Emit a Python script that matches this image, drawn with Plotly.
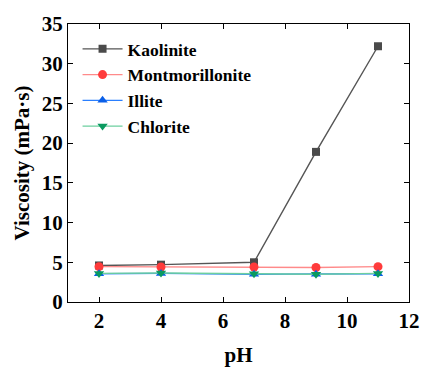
import plotly.graph_objects as go

ph = [2, 4, 7, 9, 11]
kaolinite = [4.6, 4.7, 5.0, 18.9, 32.2]
montmorillonite = [4.45, 4.4, 4.4, 4.35, 4.45]
illite = [3.55, 3.6, 3.5, 3.5, 3.55]
chlorite = [3.6, 3.65, 3.55, 3.5, 3.6]

x_ticks = [2, 4, 6, 8, 10, 12]
y_ticks = [0, 5, 10, 15, 20, 25, 30, 35]

series = [
    ("Kaolinite", kaolinite, "#555555", "#4a4a4a", "square", 8),
    ("Montmorillonite", montmorillonite, "#ff8a8a", "#ff3b3b", "circle", 9),
    ("Illite", illite, "#2a7fff", "#0a5fe8", "triangle-up", 9),
    ("Chlorite", chlorite, "#6ccf9f", "#0a9a60", "triangle-down", 9),
]

fig = go.Figure()
for name, ys, lc, mc, sym, ms in series:
    fig.add_trace(go.Scatter(
        x=ph, y=ys, name=f"<b>{name}</b>", mode="lines+markers",
        line=dict(color=lc, width=1.4),
        marker=dict(color=mc, symbol=sym, size=ms, line=dict(width=0)),
    ))

FF = "Liberation Serif"
axis_common = dict(
    showline=True, linecolor="black", linewidth=1.3, mirror="ticks",
    ticks="inside", ticklen=5, tickwidth=1.3, tickcolor="black",
    showgrid=False, zeroline=False,
    tickfont=dict(family=FF, size=21, color="black"),
)

fig.update_layout(
    width=432, height=374,
    margin=dict(l=68, r=12, t=23, b=68),
    paper_bgcolor="white", plot_bgcolor="white",
    font=dict(family=FF, color="black"),
    showlegend=True,
    legend=dict(
        x=0.028, y=0.975, xanchor="left", yanchor="top",
        bgcolor="rgba(0,0,0,0)",
        font=dict(family=FF, size=17.5, color="black"),
        tracegroupgap=0, itemwidth=40,
    ),
    xaxis=dict(
        range=[1, 12], tickvals=x_ticks, ticktext=[f"<b>{v}</b>" for v in x_ticks],
        title=dict(text="<b>pH</b>", font=dict(family=FF, size=21), standoff=14),
        **axis_common,
    ),
    yaxis=dict(
        range=[0, 35], tickvals=y_ticks, ticktext=[f"<b>{v}</b>" for v in y_ticks],
        title=dict(text="<b>Viscosity (mPa·s)</b>", font=dict(family=FF, size=21), standoff=6),
        **axis_common,
    ),
)

fig.write_html("out.html")
